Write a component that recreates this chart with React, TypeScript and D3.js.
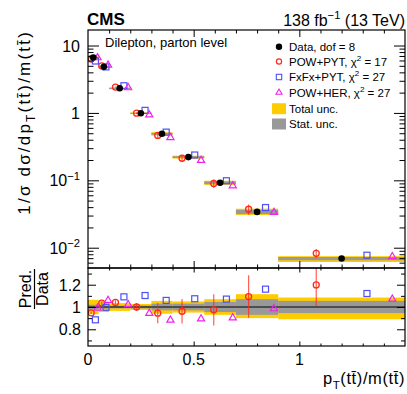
import { useEffect, useRef } from "react";
import * as d3 from "d3";

// bin edges of pT(tt)/m(tt)
const binEdges = [0, 0.05, 0.1, 0.2, 0.3, 0.4, 0.55, 0.7, 0.9, 1.5];
// measured normalised cross section
const dataValues = [6.66, 4.83, 2.32, 0.99, 0.49, 0.221, 0.092, 0.034, 0.0069];
// relative uncertainties of the data
const totalUncUp = [0.065, 0.05, 0.035, 0.027, 0.055, 0.05, 0.07, 0.115, 0.085];
const totalUncDown = [0.065, 0.045, 0.035, 0.027, 0.06, 0.05, 0.07, 0.1, 0.11];
const statUnc = [0.02, 0.015, 0.012, 0.013, 0.03, 0.03, 0.045, 0.07, 0.055];
// predictions divided by data
const powPytRatio = [0.947, 1.035, 1.041, 1.0, 0.945, 0.962, 0.975, 1.094, 1.198];
const powPytErr = [0.01, 0.015, 0.02, 0.035, 0.09, 0.11, 0.14, 0.19, 0.19];
const fxfxRatio = [0.885, 0.997, 1.091, 1.103, 1.059, 1.074, 1.071, 1.16, 1.121];
const powHerRatio = [0.991, 1.059, 1.021, 0.944, 0.882, 0.894, 0.903, 0.985, 1.071];

const logTicks = [10, 1, 0.1, 0.01];
const logTickLabels = [["10", ""], ["1", ""], ["10", "\u22121"], ["10", "\u22122"]];
const ratioTicks = [0.8, 1, 1.2];
const ratioTickLabels = ["0.8", "1", "1.2"];
const xTicks = [0, 0.5, 1];
const xTickLabels = ["0", "0.5", "1"];

const legendLabels = [
  [["Data, dof = 8", ""]],
  [["POW+PYT, \u03c7", ""], ["2", "sup"], [" = 17", ""]],
  [["FxFx+PYT, \u03c7", ""], ["2", "sup"], [" = 27", ""]],
  [["POW+HER, \u03c7", ""], ["2", "sup"], [" = 27", ""]],
  [["Total unc.", ""]],
  [["Stat. unc.", ""]],
];

const FONT = "'Liberation Sans', Arial, Helvetica, sans-serif";
const RED = "#ff2a1a";
const BLUE = "#4f4ff5";
const MAGENTA = "#ee22ee";
const YELLOW = "#ffcc00";
const GRAY = "#999999";

const TB = "t\u0304";

// appends tspans with sub/superscripts
const rich = (text, segs, size) => {
  let shift = 0;
  segs.forEach(([t, k]) => {
    const target = k === "sub" ? size * 0.3 : k === "sup" ? -size * 0.42 : 0;
    text
      .append("tspan")
      .attr("dy", target - shift)
      .attr("font-size", k ? size * 0.7 : size)
      .text(t);
    shift = target;
  });
};

const App = () => {
  const svgRef = useRef(null);

  useEffect(() => {
    const W = 407;
    const H = 394;
    const left = 88;
    const right = 405;
    const top = 30;
    const mid = 268;
    const bottom = 346;

    const svg = d3.select(svgRef.current);
    svg.selectAll("*").remove();
    svg.attr("width", W).attr("height", H).attr("font-family", FONT);

    const x = d3.scaleLinear().domain([0, 1.5]).range([left, right]);
    const y = d3.scaleLog().domain([0.005, 17]).range([mid, top]);
    const yr = d3.scaleLinear().domain([0.65, 1.35]).range([bottom, mid]);

    const bins = dataValues.map((v, i) => ({
      i,
      lo: binEdges[i],
      hi: binEdges[i + 1],
      c: (binEdges[i] + binEdges[i + 1]) / 2,
      w: binEdges[i + 1] - binEdges[i],
      v,
    }));

    svg.append("defs").append("clipPath").attr("id", "rclip")
      .append("rect").attr("x", left).attr("y", mid).attr("width", right - left).attr("height", bottom - mid);
    svg.append("defs").append("clipPath").attr("id", "tclip")
      .append("rect").attr("x", left).attr("y", top).attr("width", right - left).attr("height", mid - top);

    // ---------- top panel ----------
    const topG = svg.append("g").attr("clip-path", "url(#tclip)");

    topG.selectAll(".tot").data(bins).enter().append("rect")
      .attr("x", (d) => x(d.lo))
      .attr("width", (d) => x(d.hi) - x(d.lo))
      .attr("y", (d) => y(d.v * (1 + totalUncUp[d.i])))
      .attr("height", (d) => y(d.v * (1 - totalUncDown[d.i])) - y(d.v * (1 + totalUncUp[d.i])))
      .attr("fill", YELLOW);
    topG.selectAll(".stat").data(bins).enter().append("rect")
      .attr("x", (d) => x(d.lo))
      .attr("width", (d) => x(d.hi) - x(d.lo))
      .attr("y", (d) => y(d.v * (1 + statUnc[d.i])))
      .attr("height", (d) => Math.max(1, y(d.v * (1 - statUnc[d.i])) - y(d.v * (1 + statUnc[d.i]))))
      .attr("fill", GRAY);

    const drawPredictions = (g, yPos) => {
      // POW+PYT error bars
      g.selectAll(".pe").data(bins).enter().append("line")
        .attr("x1", (d) => x(d.c - 0.2 * d.w))
        .attr("x2", (d) => x(d.c - 0.2 * d.w))
        .attr("y1", (d) => yPos(d, powPytRatio[d.i] + powPytErr[d.i]))
        .attr("y2", (d) => yPos(d, powPytRatio[d.i] - powPytErr[d.i]))
        .attr("stroke", RED)
        .attr("stroke-opacity", 0.75)
        .attr("stroke-width", 1.2);
      g.selectAll(".pp").data(bins).enter().append("circle")
        .attr("cx", (d) => x(d.c - 0.2 * d.w))
        .attr("cy", (d) => yPos(d, powPytRatio[d.i]))
        .attr("r", 3)
        .attr("fill", "none")
        .attr("stroke", RED)
        .attr("stroke-width", 1.3);
      g.selectAll(".fx").data(bins).enter().append("rect")
        .attr("x", (d) => x(d.c + 0.2 * d.w) - 3)
        .attr("y", (d) => yPos(d, fxfxRatio[d.i]) - 3)
        .attr("width", 6)
        .attr("height", 6)
        .attr("fill", "none")
        .attr("stroke", BLUE)
        .attr("stroke-width", 1.2);
      g.selectAll(".ph").data(bins).enter().append("path")
        .attr("d", d3.symbol().type(d3.symbolTriangle).size(22))
        .attr("transform", (d) => `translate(${x(d.c + 0.4 * d.w)},${yPos(d, powHerRatio[d.i])})`)
        .attr("fill", "none")
        .attr("stroke", MAGENTA)
        .attr("stroke-width", 1.2);
    };

    drawPredictions(topG, (d, r) => y(d.v * r));

    topG.selectAll(".dot").data(bins).enter().append("circle")
      .attr("cx", (d) => x(d.c))
      .attr("cy", (d) => y(d.v))
      .attr("r", 3.3)
      .attr("fill", "black");

    // ---------- ratio panel ----------
    const botG = svg.append("g").attr("clip-path", "url(#rclip)");
    botG.selectAll(".rtot").data(bins).enter().append("rect")
      .attr("x", (d) => x(d.lo))
      .attr("width", (d) => x(d.hi) - x(d.lo))
      .attr("y", (d) => yr(1 + totalUncUp[d.i]))
      .attr("height", (d) => yr(1 - totalUncDown[d.i]) - yr(1 + totalUncUp[d.i]))
      .attr("fill", YELLOW);
    botG.selectAll(".rstat").data(bins).enter().append("rect")
      .attr("x", (d) => x(d.lo))
      .attr("width", (d) => x(d.hi) - x(d.lo))
      .attr("y", (d) => yr(1 + statUnc[d.i]))
      .attr("height", (d) => yr(1 - statUnc[d.i]) - yr(1 + statUnc[d.i]))
      .attr("fill", GRAY);
    botG.append("line")
      .attr("x1", left).attr("x2", right)
      .attr("y1", yr(1)).attr("y2", yr(1))
      .attr("stroke", "black").attr("stroke-width", 1);

    drawPredictions(botG, (d, r) => yr(r));

    // ---------- axes ----------
    const minorLog = [];
    for (let e = -3; e <= 1; e++) {
      for (let m = 2; m <= 9; m++) {
        const v = m * Math.pow(10, e);
        if (v > 0.005 && v < 17) minorLog.push(v);
      }
    }
    const minorX = d3.range(1, 15).map((k) => k / 10).filter((v) => v % 0.5 !== 0);
    const minorR = [0.7, 0.9, 1.1, 1.3];

    const axisG = svg.append("g");
    const addAxis = (axis, tx, ty) => {
      const g = axisG.append("g").attr("transform", `translate(${tx},${ty})`).call(axis);
      g.select(".domain").remove();
      g.selectAll("line").attr("stroke", "black").attr("stroke-width", 1);
    };

    // top panel y
    addAxis(d3.axisLeft(y).tickValues(logTicks).tickSize(-11).tickFormat(""), left, 0);
    addAxis(d3.axisLeft(y).tickValues(minorLog).tickSize(-5.5).tickFormat(""), left, 0);
    addAxis(d3.axisRight(y).tickValues(logTicks).tickSize(-11).tickFormat(""), right, 0);
    addAxis(d3.axisRight(y).tickValues(minorLog).tickSize(-5.5).tickFormat(""), right, 0);
    // top panel x
    addAxis(d3.axisTop(x).tickValues([0.5, 1]).tickSize(-7).tickFormat(""), 0, top);
    addAxis(d3.axisTop(x).tickValues(minorX).tickSize(-3.5).tickFormat(""), 0, top);
    addAxis(d3.axisBottom(x).tickValues([0.5, 1]).tickSize(-7).tickFormat(""), 0, mid);
    addAxis(d3.axisBottom(x).tickValues(minorX).tickSize(-3.5).tickFormat(""), 0, mid);
    // ratio panel
    addAxis(d3.axisLeft(yr).tickValues(ratioTicks).tickSize(-8).tickFormat(""), left, 0);
    addAxis(d3.axisLeft(yr).tickValues(minorR).tickSize(-4).tickFormat(""), left, 0);
    addAxis(d3.axisRight(yr).tickValues(ratioTicks).tickSize(-8).tickFormat(""), right, 0);
    addAxis(d3.axisRight(yr).tickValues(minorR).tickSize(-4).tickFormat(""), right, 0);
    addAxis(d3.axisTop(x).tickValues([0.5, 1]).tickSize(-4.5).tickFormat(""), 0, mid);
    addAxis(d3.axisTop(x).tickValues(minorX).tickSize(-2.5).tickFormat(""), 0, mid);
    addAxis(d3.axisBottom(x).tickValues([0.5, 1]).tickSize(-4.5).tickFormat(""), 0, bottom);
    addAxis(d3.axisBottom(x).tickValues(minorX).tickSize(-2.5).tickFormat(""), 0, bottom);

    // frames
    svg.append("rect").attr("x", left).attr("y", top).attr("width", right - left).attr("height", mid - top)
      .attr("fill", "none").attr("stroke", "black").attr("stroke-width", 1.2);
    svg.append("rect").attr("x", left).attr("y", mid).attr("width", right - left).attr("height", bottom - mid)
      .attr("fill", "none").attr("stroke", "black").attr("stroke-width", 1.2);

    // tick labels
    logTicks.forEach((v, i) => {
      const t = svg.append("text").attr("x", 80).attr("y", y(v) + 6).attr("text-anchor", "end");
      const [base, sup] = logTickLabels[i];
      rich(t, sup ? [[base, ""], [sup, "sup"]] : [[base, ""]], 16);
    });
    ratioTicks.forEach((v, i) => {
      svg.append("text").attr("x", 81).attr("y", yr(v) + 6).attr("text-anchor", "end")
        .attr("font-size", 16).text(ratioTickLabels[i]);
    });
    xTicks.forEach((v, i) => {
      svg.append("text").attr("x", x(v)).attr("y", 365).attr("text-anchor", "middle")
        .attr("font-size", 16).text(xTickLabels[i]);
    });

    // axis titles
    const xt = svg.append("text").attr("x", right).attr("y", 384).attr("text-anchor", "end")
      .attr("letter-spacing", 0.6);
    rich(xt, [["p", ""], ["T", "sub"], [`(t${TB})/m(t${TB})`, ""]], 16.5);

    const yt = svg.append("text").attr("transform", `translate(30,${top}) rotate(-90)`).attr("text-anchor", "end")
      .attr("letter-spacing", 2.2);
    rich(yt, [["1/\u03c3 d\u03c3/dp", ""], ["T", "sub"], [`(t${TB})/m(t${TB})`, ""]], 17);

    const fr = svg.append("g").attr("transform", "translate(0,289) rotate(-90)");
    fr.append("text").attr("x", 0).attr("y", 31).attr("text-anchor", "middle").attr("font-size", 16).text("Pred.");
    fr.append("text").attr("x", 0).attr("y", 48).attr("text-anchor", "middle").attr("font-size", 16).text("Data");
    fr.append("line").attr("x1", -20).attr("x2", 20).attr("y1", 34.5).attr("y2", 34.5).attr("stroke", "black").attr("stroke-width", 1.2);

    // header
    svg.append("text").attr("x", 87).attr("y", 25).attr("font-size", 17).attr("font-weight", "bold").text("CMS");
    const lumi = svg.append("text").attr("x", right).attr("y", 26).attr("text-anchor", "end");
    rich(lumi, [["138 fb", ""], ["\u22121", "sup"], [" (13 TeV)", ""]], 16);

    svg.append("text").attr("x", 105).attr("y", 47).attr("font-size", 13).text("Dilepton, parton level");

    // legend
    const rowY = [46.7, 61.5, 77, 92.5, 108.7, 124];
    const mx = 279;
    const leg = svg.append("g");
    leg.append("circle").attr("cx", mx).attr("cy", rowY[0]).attr("r", 3.2).attr("fill", "black");
    leg.append("circle").attr("cx", mx).attr("cy", rowY[1]).attr("r", 2.6).attr("fill", "none").attr("stroke", RED).attr("stroke-width", 1.2);
    leg.append("rect").attr("x", mx - 2.7).attr("y", rowY[2] - 2.7).attr("width", 5.4).attr("height", 5.4).attr("fill", "none").attr("stroke", BLUE).attr("stroke-width", 1.1);
    leg.append("path").attr("d", d3.symbol().type(d3.symbolTriangle).size(16)).attr("transform", `translate(${mx},${rowY[3]})`)
      .attr("fill", "none").attr("stroke", MAGENTA).attr("stroke-width", 1.1);
    leg.append("rect").attr("x", 272).attr("y", rowY[4] - 5.5).attr("width", 14).attr("height", 11).attr("fill", YELLOW);
    leg.append("rect").attr("x", 272).attr("y", rowY[5] - 5.5).attr("width", 14).attr("height", 11).attr("fill", GRAY);
    legendLabels.forEach((segs, i) => {
      const t = leg.append("text").attr("x", 289).attr("y", rowY[i] + 4);
      rich(t, segs, 11.5);
    });
  }, []);

  return <svg ref={svgRef} style={{ position: "absolute", left: 0, top: 0 }}></svg>;
};

export default App;
